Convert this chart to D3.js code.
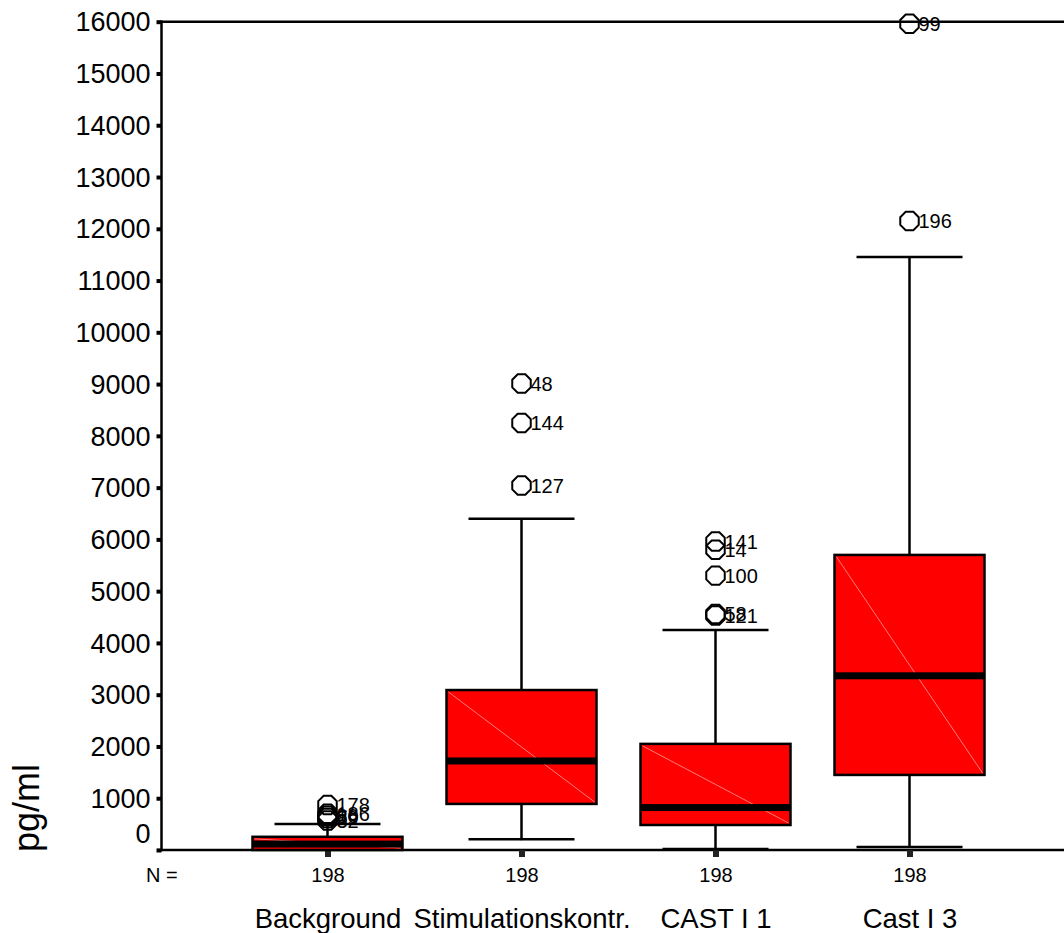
<!DOCTYPE html>
<html>
<head>
<meta charset="utf-8">
<script src="https://cdn.jsdelivr.net/npm/d3@7"></script>
<style>
  body { margin: 0; background: #fff; }
  text { font-family: "Liberation Sans", Arial, sans-serif; fill: #000; }
</style>
</head>
<body>
<svg id="chart" width="1064" height="933"></svg>
<script>
// categories and box statistics (pg/ml)
var categories = ["Background", "Stimulationskontr.", "CAST I 1", "Cast I 3"];
var nCounts = [198, 198, 198, 198];
var whiskerLow = [0, 190, 0, 40];
var q1 = [0, 890, 483, 1450];
var median = [115, 1720, 820, 3365];
var q3 = [255, 3090, 2050, 5700];
var whiskerHigh = [500, 6400, 4250, 11455];

// outliers: group index, value, case label
var outlierGroup = [0, 0, 0, 0, 0, 1, 1, 1, 2, 2, 2, 2, 2, 3, 3];
var outlierValue = [870, 700, 660, 620, 570, 9010, 8250, 7040, 5960, 5800, 5300, 4560, 4530, 15960, 12150];
var outlierLabel = ["178", "186", "80", "89", "32", "48", "144", "127", "141", "14", "100", "58", "121", "99", "196"];

var yTicks = d3.range(0, 16001, 1000);

var svg = d3.select("#chart");
svg.append("rect").attr("width", 1064).attr("height", 933).attr("fill", "#fff");

var plotLeft = 161.5, plotBottom = 850, plotTop = 21.7, plotRight = 1064;

var y = d3.scaleLinear().domain([0, 16000]).range([plotBottom, plotTop]);
var x = d3.scalePoint().domain(categories).range([327.5, 909.5]);

var boxW = 150, capW = 106;

// y axis
var yAxis = svg.append("g")
    .attr("transform", "translate(" + plotLeft + ",0)")
    .call(d3.axisLeft(y).tickValues(yTicks).tickSize(5).tickPadding(6).tickFormat(d3.format("d")));
yAxis.select(".domain").remove();
yAxis.selectAll(".tick line").attr("stroke", "#000").attr("stroke-width", 4);
yAxis.selectAll(".tick text")
    .attr("font-size", 27)
    .attr("dy", function (d) { return d === 0 ? "-0.28em" : "0.34em"; });

// frame lines
svg.append("line").attr("x1", plotLeft).attr("x2", plotLeft).attr("y1", plotTop - 1.2).attr("y2", plotBottom + 1.2)
    .attr("stroke", "#000").attr("stroke-width", 2.5);
svg.append("line").attr("x1", plotLeft).attr("x2", plotRight).attr("y1", plotTop).attr("y2", plotTop)
    .attr("stroke", "#000").attr("stroke-width", 2.5);
svg.append("line").attr("x1", 157).attr("x2", plotRight).attr("y1", plotBottom).attr("y2", plotBottom)
    .attr("stroke", "#000").attr("stroke-width", 2.5);

// x axis with N counts
var xAxis = svg.append("g")
    .attr("transform", "translate(0," + plotBottom + ")")
    .call(d3.axisBottom(x).tickSize(7).tickPadding(11).tickFormat(function (d, i) { return nCounts[i]; }));
xAxis.select(".domain").remove();
xAxis.selectAll(".tick line").attr("stroke", "#222").attr("stroke-width", 6);
xAxis.selectAll(".tick text").attr("font-size", 20);

svg.append("text").attr("x", 146).attr("y", 882).attr("font-size", 20).text("N =");

// category names
var catAxis = svg.append("g")
    .attr("transform", "translate(0," + plotBottom + ")")
    .call(d3.axisBottom(x).tickSize(0).tickPadding(58));
catAxis.select(".domain").remove();
catAxis.selectAll(".tick text").attr("font-size", 27.5);

// y title
svg.append("text")
    .attr("transform", "translate(39,808) rotate(-90)")
    .attr("text-anchor", "middle")
    .attr("font-size", 36)
    .text("pg/ml");

// boxes
var idx = d3.range(categories.length);
var boxes = svg.append("g").selectAll("g").data(idx).join("g");

boxes.append("line")
    .attr("x1", function (i) { return x(categories[i]); })
    .attr("x2", function (i) { return x(categories[i]); })
    .attr("y1", function (i) { return y(q3[i]); })
    .attr("y2", function (i) { return y(whiskerHigh[i]); })
    .attr("stroke", "#000").attr("stroke-width", 2.5);
boxes.append("line")
    .attr("x1", function (i) { return x(categories[i]); })
    .attr("x2", function (i) { return x(categories[i]); })
    .attr("y1", function (i) { return y(q1[i]); })
    .attr("y2", function (i) { return y(whiskerLow[i]); })
    .attr("stroke", "#000").attr("stroke-width", 2.5);
boxes.append("line")
    .attr("x1", function (i) { return x(categories[i]) - capW / 2; })
    .attr("x2", function (i) { return x(categories[i]) + capW / 2; })
    .attr("y1", function (i) { return y(whiskerHigh[i]); })
    .attr("y2", function (i) { return y(whiskerHigh[i]); })
    .attr("stroke", "#000").attr("stroke-width", 2.5);
boxes.append("line")
    .attr("x1", function (i) { return x(categories[i]) - capW / 2; })
    .attr("x2", function (i) { return x(categories[i]) + capW / 2; })
    .attr("y1", function (i) { return y(whiskerLow[i]) - 1; })
    .attr("y2", function (i) { return y(whiskerLow[i]) - 1; })
    .attr("stroke", "#000").attr("stroke-width", 2.5);

boxes.append("rect")
    .attr("x", function (i) { return x(categories[i]) - boxW / 2; })
    .attr("width", boxW)
    .attr("y", function (i) { return y(q3[i]); })
    .attr("height", function (i) { return y(q1[i]) - y(q3[i]); })
    .attr("fill", "#ff0000").attr("stroke", "#000").attr("stroke-width", 2.5);

// faint diagonal seen in the original boxes
boxes.append("line")
    .attr("x1", function (i) { return x(categories[i]) - boxW / 2 + 2; })
    .attr("x2", function (i) { return x(categories[i]) + boxW / 2 - 2; })
    .attr("y1", function (i) { return y(q3[i]) + 2; })
    .attr("y2", function (i) { return y(q1[i]) - 2; })
    .attr("stroke", "#ff9a9a").attr("stroke-width", 0.8);

boxes.append("rect")
    .attr("x", function (i) { return x(categories[i]) - boxW / 2; })
    .attr("width", boxW)
    .attr("y", function (i) { return y(median[i]) - 3.5; })
    .attr("height", 7)
    .attr("fill", "#000");

// outliers, drawn as octagons
var octagon = d3.lineRadial()
    .angle(function (d) { return d * Math.PI / 4 + Math.PI / 8; })
    .radius(10)
    .curve(d3.curveLinearClosed);

var outs = svg.append("g").selectAll("g").data(d3.range(outlierValue.length)).join("g")
    .attr("transform", function (k) {
        return "translate(" + x(categories[outlierGroup[k]]) + "," + y(outlierValue[k]) + ")";
    });
outs.append("path")
    .attr("d", octagon(d3.range(8)))
    .attr("fill", "none").attr("stroke", "#000").attr("stroke-width", 2);
outs.append("text")
    .attr("x", 9)
    .attr("dy", "0.36em")
    .attr("font-size", 20)
    .text(function (k) { return outlierLabel[k]; });
</script>
</body>
</html>
